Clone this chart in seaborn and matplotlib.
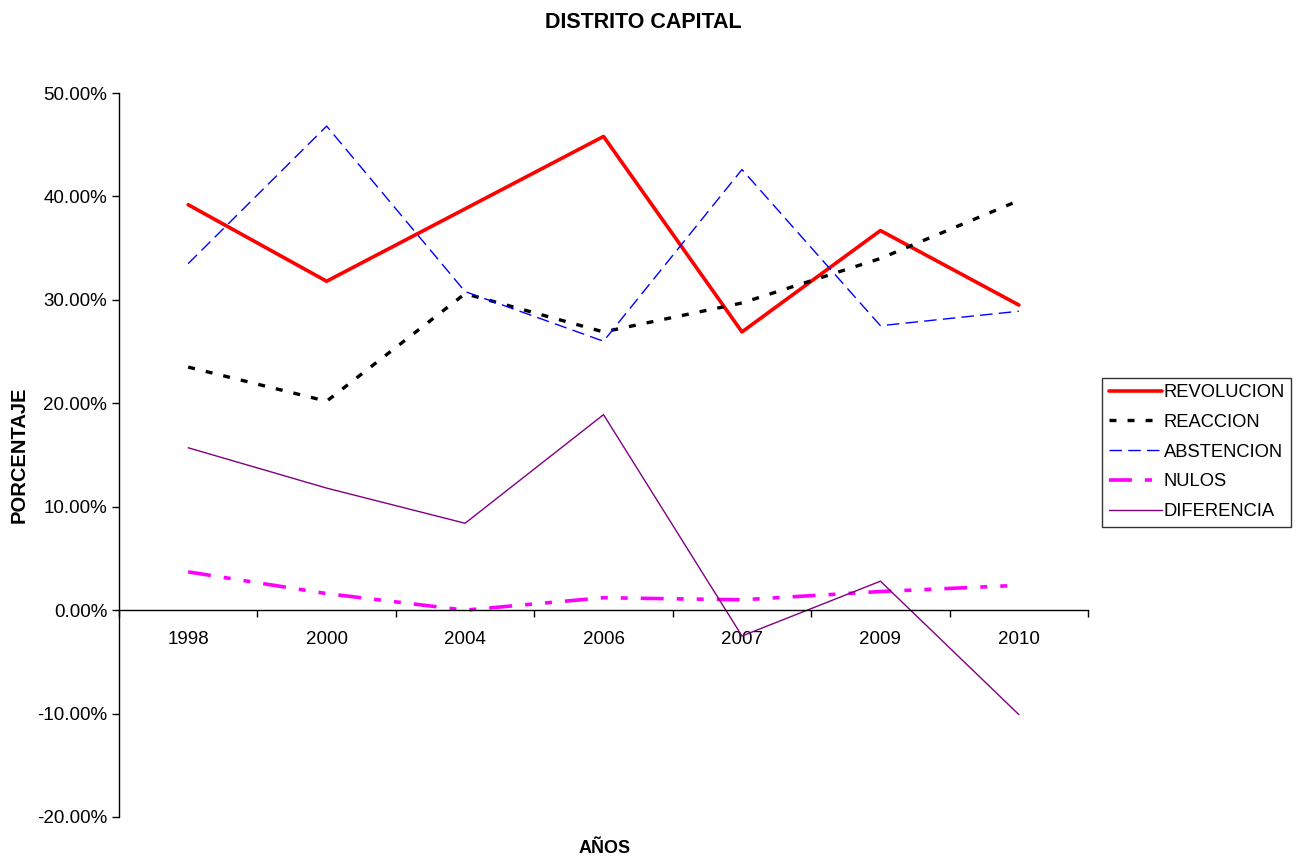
import matplotlib
matplotlib.use("Agg")
import matplotlib.pyplot as plt
import matplotlib.ticker as mticker
import seaborn as sns

# Data (percent)
years = ["1998", "2000", "2004", "2006", "2007", "2009", "2010"]
revolucion = [39.2, 31.8, 38.8, 45.8, 26.9, 36.7, 29.5]
reaccion = [23.5, 20.2, 30.6, 26.9, 29.7, 34.0, 39.6]
abstencion = [33.5, 46.8, 30.8, 26.0, 42.6, 27.5, 28.9]
nulos = [3.7, 1.6, 0.0, 1.2, 1.0, 1.8, 2.4]
diferencia = [15.7, 11.8, 8.4, 18.9, -2.5, 2.8, -10.1]

sns.set_style("white")
plt.rcParams["font.family"] = ["Liberation Sans", "DejaVu Sans"]
plt.rcParams["lines.scale_dashes"] = False
plt.rcParams["text.color"] = "black"
plt.rcParams["xtick.color"] = "black"
plt.rcParams["ytick.color"] = "black"

fig = plt.figure(figsize=(13, 8.58), dpi=100)
ax = fig.add_axes([0.0915, 0.0478, 0.7455, 0.8438])

series = [
    ("REVOLUCION", revolucion, "#ff0000", 2.6, None),
    ("REACCION", reaccion, "#000000", 2.4, (0, (5, 8))),
    ("ABSTENCION", abstencion, "#0000ff", 1.0, (0, (9, 4.5))),
    ("NULOS", nulos, "#ff00ff", 2.6, (0, (16.5, 9.4, 5, 9.4, 5, 9.4))),
    ("DIFERENCIA", diferencia, "#800080", 1.0, None),
]

for name, vals, color, lw, dash in series:
    sns.lineplot(x=years, y=vals, ax=ax, color=color, linewidth=lw,
                 label=name, sort=False)
    line = ax.get_lines()[-1]
    if dash is not None:
        line.set_linestyle(dash)

ax.set_xlim(-0.5, 6.5)
ax.set_ylim(-20, 50)
ax.yaxis.set_major_locator(mticker.MultipleLocator(10))
ax.yaxis.set_major_formatter(mticker.FuncFormatter(lambda v, _: f"{v:.2f}%"))

for s in ["top", "right"]:
    ax.spines[s].set_visible(False)
ax.spines["bottom"].set_position(("data", 0))
for s in ["left", "bottom"]:
    ax.spines[s].set_color("black")
    ax.spines[s].set_linewidth(1.0)

ax.xaxis.set_minor_locator(mticker.FixedLocator([i + 0.5 for i in range(-1, 7)]))
ax.tick_params(axis="x", which="major", bottom=True, length=0, pad=15, labelsize=13.5)
ax.tick_params(axis="x", which="minor", bottom=True, length=5, width=1,
               direction="out", color="black")
ax.tick_params(axis="y", which="major", length=5, width=1, direction="out",
               color="black", labelsize=13.5, left=True)

ax.set_xlabel("")
ax.set_ylabel("")
fig.text(0.495, 0.974, "DISTRITO CAPITAL", ha="center", va="center",
         fontsize=15.5, fontweight="bold")
fig.text(0.015, 0.47, "PORCENTAJE", ha="center", va="center", rotation=90,
         fontsize=14.5, fontweight="bold")
fig.text(0.465, 0.011, "AÑOS", ha="center", va="center",
         fontsize=13, fontweight="bold")

ax.get_legend().remove()
handles, labels = ax.get_legend_handles_labels()
leg = fig.legend(handles, labels, loc="upper left", bbox_to_anchor=(0.848, 0.56),
                 fontsize=13.2, frameon=True, fancybox=False, edgecolor="black",
                 handlelength=2.9, handletextpad=0.1, labelspacing=0.7,
                 borderpad=0.35, borderaxespad=0)
leg.get_frame().set_linewidth(1.0)

fig.savefig("out.png", dpi=100)
